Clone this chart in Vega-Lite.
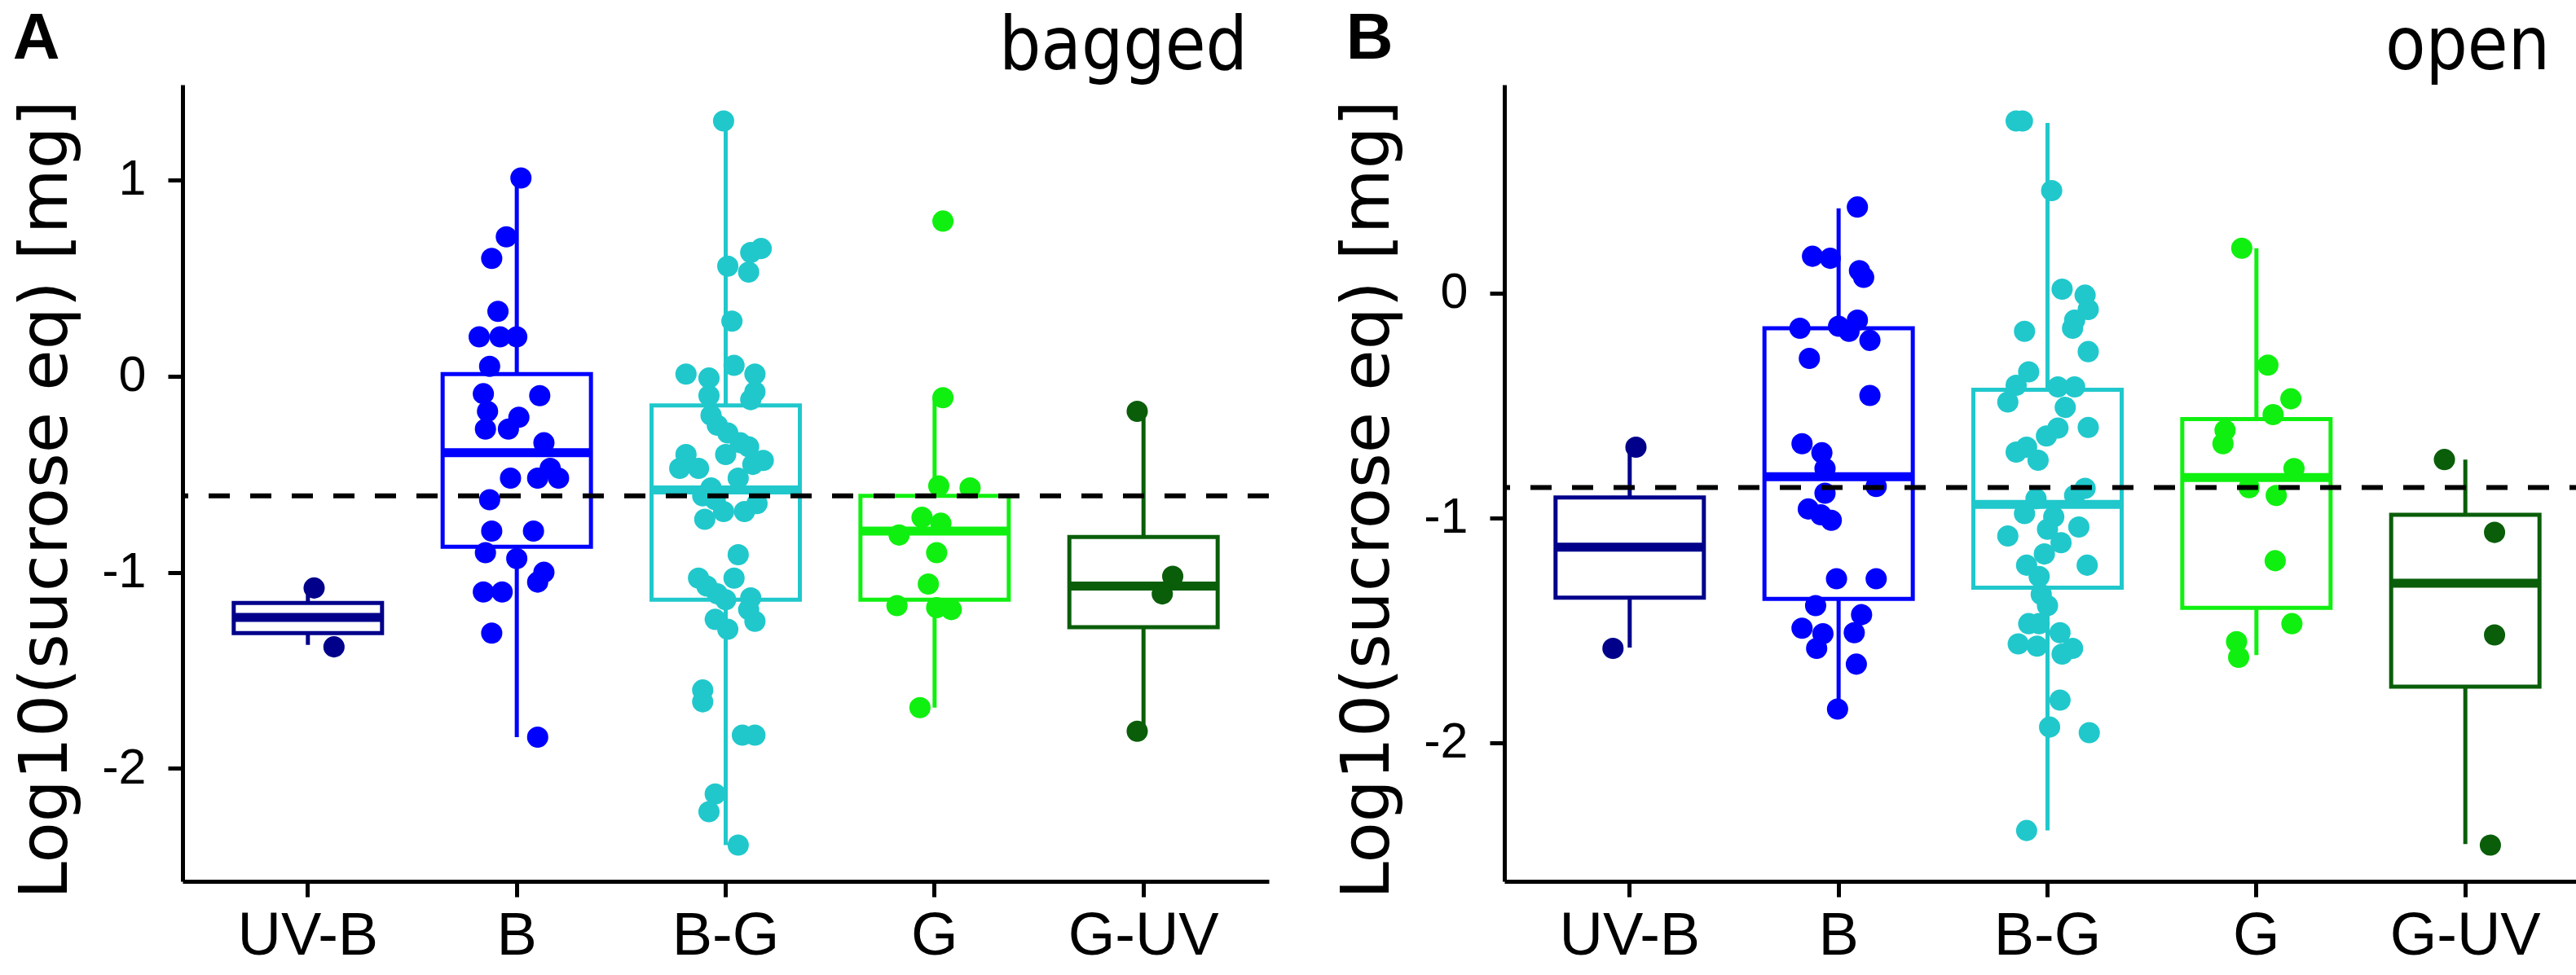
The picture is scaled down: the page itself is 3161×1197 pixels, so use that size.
{
  "$schema": "https://vega.github.io/schema/vega-lite/v6.json",
  "background": "white",
  "padding": {"left": 15, "top": 8, "right": 5, "bottom": 0},
  "spacing": 77,
  "config": {
    "view": {"stroke": null},
    "axis": {
      "grid": false,
      "domainColor": "black",
      "domainWidth": 5,
      "tickColor": "black",
      "tickWidth": 5,
      "labelColor": "black",
      "labelFont": "Liberation Sans",
      "labelLimit": 0,
      "titleFont": "DejaVu Sans",
      "titleFontWeight": "normal",
      "titleColor": "black"
    },
    "axisX": {"labelFontSize": 74, "labelPadding": 12, "tickSize": 19, "labelAngle": 0},
    "axisY": {"labelFontSize": 61, "labelPadding": 27, "tickSize": 18, "titleFontSize": 82, "titlePadding": 26, "titleY": 509, "labelExpr": "'' + datum.value"},
    "title": {"color": "black"}
  },
  "datasets": {
    "bagged_box": [
      {"cat": "UV-B", "lower": -1.37, "q1": -1.31, "median": -1.23, "q3": -1.156, "upper": -1.1},
      {"cat": "B", "lower": -1.84, "q1": -0.87, "median": -0.39, "q3": 0.01, "upper": 1.01},
      {"cat": "B-G", "lower": -2.39, "q1": -1.14, "median": -0.58, "q3": -0.15, "upper": 1.3},
      {"cat": "G", "lower": -1.69, "q1": -1.14, "median": -0.79, "q3": -0.61, "upper": -0.11},
      {"cat": "G-UV", "lower": -1.81, "q1": -1.28, "median": -1.07, "q3": -0.82, "upper": -0.18}
    ],
    "open_box": [
      {"cat": "UV-B", "lower": -1.576, "q1": -1.354, "median": -1.13, "q3": -0.909, "upper": -0.685},
      {"cat": "B", "lower": -1.85, "q1": -1.36, "median": -0.816, "q3": -0.156, "upper": 0.377},
      {"cat": "B-G", "lower": -2.39, "q1": -1.31, "median": -0.94, "q3": -0.43, "upper": 0.757},
      {"cat": "G", "lower": -1.61, "q1": -1.4, "median": -0.82, "q3": -0.56, "upper": 0.2},
      {"cat": "G-UV", "lower": -2.45, "q1": -1.75, "median": -1.29, "q3": -0.986, "upper": -0.74}
    ],
    "bagged_ref": [{"ref": -0.61}],
    "open_ref": [{"ref": -0.864}],
    "bagged_pts": [
      {"cat": "UV-B", "val": -1.08, "jitter": 0.03},
      {"cat": "UV-B", "val": -1.38, "jitter": 0.125},
      {"cat": "B", "val": 1.01, "jitter": 0.02},
      {"cat": "B", "val": 0.71, "jitter": -0.05},
      {"cat": "B", "val": 0.6, "jitter": -0.12},
      {"cat": "B", "val": 0.33, "jitter": -0.09},
      {"cat": "B", "val": 0.2, "jitter": -0.18},
      {"cat": "B", "val": 0.2, "jitter": -0.08},
      {"cat": "B", "val": 0.2, "jitter": 0.0},
      {"cat": "B", "val": 0.05, "jitter": -0.13},
      {"cat": "B", "val": -0.09, "jitter": -0.16},
      {"cat": "B", "val": -0.1, "jitter": 0.11},
      {"cat": "B", "val": -0.18, "jitter": -0.14},
      {"cat": "B", "val": -0.21, "jitter": 0.01},
      {"cat": "B", "val": -0.27, "jitter": -0.15},
      {"cat": "B", "val": -0.27, "jitter": -0.04},
      {"cat": "B", "val": -0.34, "jitter": 0.13},
      {"cat": "B", "val": -0.47, "jitter": 0.16},
      {"cat": "B", "val": -0.52, "jitter": -0.03},
      {"cat": "B", "val": -0.52, "jitter": 0.1},
      {"cat": "B", "val": -0.52, "jitter": 0.2},
      {"cat": "B", "val": -0.63, "jitter": -0.13},
      {"cat": "B", "val": -0.79, "jitter": -0.12},
      {"cat": "B", "val": -0.79, "jitter": 0.08},
      {"cat": "B", "val": -0.9, "jitter": -0.15},
      {"cat": "B", "val": -0.93, "jitter": 0.0},
      {"cat": "B", "val": -1.0, "jitter": 0.13},
      {"cat": "B", "val": -1.05, "jitter": 0.1},
      {"cat": "B", "val": -1.1, "jitter": -0.16},
      {"cat": "B", "val": -1.1, "jitter": -0.07},
      {"cat": "B", "val": -1.31, "jitter": -0.12},
      {"cat": "B", "val": -1.84, "jitter": 0.1},
      {"cat": "B-G", "val": 1.3, "jitter": -0.01},
      {"cat": "B-G", "val": 0.65, "jitter": 0.17},
      {"cat": "B-G", "val": 0.63, "jitter": 0.12},
      {"cat": "B-G", "val": 0.56, "jitter": 0.01},
      {"cat": "B-G", "val": 0.53, "jitter": 0.11},
      {"cat": "B-G", "val": 0.28, "jitter": 0.03},
      {"cat": "B-G", "val": 0.055, "jitter": 0.04},
      {"cat": "B-G", "val": 0.01, "jitter": -0.19},
      {"cat": "B-G", "val": -0.01, "jitter": -0.08},
      {"cat": "B-G", "val": 0.01, "jitter": 0.14},
      {"cat": "B-G", "val": -0.08, "jitter": 0.14},
      {"cat": "B-G", "val": -0.12, "jitter": 0.12},
      {"cat": "B-G", "val": -0.1, "jitter": -0.08},
      {"cat": "B-G", "val": -0.2, "jitter": -0.07},
      {"cat": "B-G", "val": -0.25, "jitter": -0.04},
      {"cat": "B-G", "val": -0.29, "jitter": 0.01},
      {"cat": "B-G", "val": -0.34, "jitter": 0.07},
      {"cat": "B-G", "val": -0.36, "jitter": 0.11},
      {"cat": "B-G", "val": -0.4, "jitter": -0.19},
      {"cat": "B-G", "val": -0.4, "jitter": 0.0},
      {"cat": "B-G", "val": -0.43, "jitter": 0.18},
      {"cat": "B-G", "val": -0.45, "jitter": 0.13},
      {"cat": "B-G", "val": -0.47, "jitter": -0.22},
      {"cat": "B-G", "val": -0.47, "jitter": -0.13},
      {"cat": "B-G", "val": -0.52, "jitter": 0.06},
      {"cat": "B-G", "val": -0.57, "jitter": -0.07},
      {"cat": "B-G", "val": -0.61, "jitter": -0.11},
      {"cat": "B-G", "val": -0.63, "jitter": -0.05},
      {"cat": "B-G", "val": -0.65, "jitter": 0.15},
      {"cat": "B-G", "val": -0.69, "jitter": -0.01},
      {"cat": "B-G", "val": -0.69, "jitter": 0.09},
      {"cat": "B-G", "val": -0.73, "jitter": -0.1},
      {"cat": "B-G", "val": -0.91, "jitter": 0.06},
      {"cat": "B-G", "val": -1.03, "jitter": -0.13},
      {"cat": "B-G", "val": -1.03, "jitter": 0.04},
      {"cat": "B-G", "val": -1.07, "jitter": -0.09},
      {"cat": "B-G", "val": -1.11, "jitter": -0.04},
      {"cat": "B-G", "val": -1.13, "jitter": 0.12},
      {"cat": "B-G", "val": -1.14, "jitter": 0.0},
      {"cat": "B-G", "val": -1.19, "jitter": 0.11},
      {"cat": "B-G", "val": -1.24, "jitter": -0.05},
      {"cat": "B-G", "val": -1.25, "jitter": 0.14},
      {"cat": "B-G", "val": -1.29, "jitter": 0.01},
      {"cat": "B-G", "val": -1.6, "jitter": -0.11},
      {"cat": "B-G", "val": -1.66, "jitter": -0.11},
      {"cat": "B-G", "val": -1.83, "jitter": 0.08},
      {"cat": "B-G", "val": -1.83, "jitter": 0.14},
      {"cat": "B-G", "val": -2.13, "jitter": -0.05},
      {"cat": "B-G", "val": -2.22, "jitter": -0.08},
      {"cat": "B-G", "val": -2.39, "jitter": 0.06},
      {"cat": "G", "val": 0.79, "jitter": 0.04},
      {"cat": "G", "val": -0.11, "jitter": 0.04},
      {"cat": "G", "val": -0.56, "jitter": 0.02},
      {"cat": "G", "val": -0.57, "jitter": 0.17},
      {"cat": "G", "val": -0.72, "jitter": -0.06},
      {"cat": "G", "val": -0.75, "jitter": 0.03},
      {"cat": "G", "val": -0.81, "jitter": -0.17},
      {"cat": "G", "val": -0.9, "jitter": 0.01},
      {"cat": "G", "val": -1.06, "jitter": -0.03},
      {"cat": "G", "val": -1.17, "jitter": -0.18},
      {"cat": "G", "val": -1.18, "jitter": 0.01},
      {"cat": "G", "val": -1.19, "jitter": 0.08},
      {"cat": "G", "val": -1.69, "jitter": -0.07},
      {"cat": "G-UV", "val": -0.18, "jitter": -0.03},
      {"cat": "G-UV", "val": -1.02, "jitter": 0.14},
      {"cat": "G-UV", "val": -1.11, "jitter": 0.09},
      {"cat": "G-UV", "val": -1.81, "jitter": -0.03}
    ],
    "open_pts": [
      {"cat": "UV-B", "val": -0.685, "jitter": 0.03},
      {"cat": "UV-B", "val": -1.58, "jitter": -0.08},
      {"cat": "B", "val": 0.383, "jitter": 0.09},
      {"cat": "B", "val": 0.164, "jitter": -0.125},
      {"cat": "B", "val": 0.155, "jitter": -0.04},
      {"cat": "B", "val": 0.1, "jitter": 0.1},
      {"cat": "B", "val": 0.07, "jitter": 0.12},
      {"cat": "B", "val": -0.156, "jitter": -0.185},
      {"cat": "B", "val": -0.147, "jitter": 0.0},
      {"cat": "B", "val": -0.12, "jitter": 0.09},
      {"cat": "B", "val": -0.17, "jitter": 0.05},
      {"cat": "B", "val": -0.21, "jitter": 0.15},
      {"cat": "B", "val": -0.29, "jitter": -0.14},
      {"cat": "B", "val": -0.455, "jitter": 0.15},
      {"cat": "B", "val": -0.67, "jitter": -0.175},
      {"cat": "B", "val": -0.71, "jitter": -0.08},
      {"cat": "B", "val": -0.78, "jitter": -0.065},
      {"cat": "B", "val": -0.86, "jitter": 0.18},
      {"cat": "B", "val": -0.89, "jitter": -0.065},
      {"cat": "B", "val": -0.96, "jitter": -0.145},
      {"cat": "B", "val": -0.986, "jitter": -0.085},
      {"cat": "B", "val": -1.01, "jitter": -0.035},
      {"cat": "B", "val": -1.27, "jitter": -0.01},
      {"cat": "B", "val": -1.27, "jitter": 0.18},
      {"cat": "B", "val": -1.39, "jitter": -0.11},
      {"cat": "B", "val": -1.43, "jitter": 0.11},
      {"cat": "B", "val": -1.49, "jitter": -0.175},
      {"cat": "B", "val": -1.515, "jitter": -0.075},
      {"cat": "B", "val": -1.51, "jitter": 0.075},
      {"cat": "B", "val": -1.58, "jitter": -0.105},
      {"cat": "B", "val": -1.65, "jitter": 0.085},
      {"cat": "B", "val": -1.85, "jitter": -0.005},
      {"cat": "B-G", "val": 0.766, "jitter": -0.15},
      {"cat": "B-G", "val": 0.766, "jitter": -0.12},
      {"cat": "B-G", "val": 0.456, "jitter": 0.02},
      {"cat": "B-G", "val": 0.018, "jitter": 0.07},
      {"cat": "B-G", "val": -0.009, "jitter": 0.18},
      {"cat": "B-G", "val": -0.073, "jitter": 0.195},
      {"cat": "B-G", "val": -0.12, "jitter": 0.13},
      {"cat": "B-G", "val": -0.156, "jitter": 0.12},
      {"cat": "B-G", "val": -0.17, "jitter": -0.11},
      {"cat": "B-G", "val": -0.26, "jitter": 0.195},
      {"cat": "B-G", "val": -0.35, "jitter": -0.09},
      {"cat": "B-G", "val": -0.41, "jitter": -0.15},
      {"cat": "B-G", "val": -0.417, "jitter": 0.05},
      {"cat": "B-G", "val": -0.417, "jitter": 0.13},
      {"cat": "B-G", "val": -0.484, "jitter": -0.19},
      {"cat": "B-G", "val": -0.508, "jitter": 0.085},
      {"cat": "B-G", "val": -0.597, "jitter": 0.195},
      {"cat": "B-G", "val": -0.6, "jitter": 0.05},
      {"cat": "B-G", "val": -0.635, "jitter": -0.005},
      {"cat": "B-G", "val": -0.685, "jitter": -0.1},
      {"cat": "B-G", "val": -0.707, "jitter": -0.15},
      {"cat": "B-G", "val": -0.743, "jitter": -0.045},
      {"cat": "B-G", "val": -0.868, "jitter": 0.18},
      {"cat": "B-G", "val": -0.9, "jitter": 0.13},
      {"cat": "B-G", "val": -0.914, "jitter": -0.055},
      {"cat": "B-G", "val": -0.98, "jitter": -0.11},
      {"cat": "B-G", "val": -0.995, "jitter": 0.03},
      {"cat": "B-G", "val": -1.04, "jitter": 0.15},
      {"cat": "B-G", "val": -1.05, "jitter": 0.0},
      {"cat": "B-G", "val": -1.08, "jitter": -0.19},
      {"cat": "B-G", "val": -1.11, "jitter": 0.065},
      {"cat": "B-G", "val": -1.16, "jitter": -0.015},
      {"cat": "B-G", "val": -1.21, "jitter": 0.19},
      {"cat": "B-G", "val": -1.21, "jitter": -0.1},
      {"cat": "B-G", "val": -1.26, "jitter": -0.04},
      {"cat": "B-G", "val": -1.34, "jitter": -0.03},
      {"cat": "B-G", "val": -1.39, "jitter": 0.0},
      {"cat": "B-G", "val": -1.47, "jitter": -0.09},
      {"cat": "B-G", "val": -1.47, "jitter": -0.04},
      {"cat": "B-G", "val": -1.51, "jitter": 0.06},
      {"cat": "B-G", "val": -1.56, "jitter": -0.14},
      {"cat": "B-G", "val": -1.57, "jitter": -0.05},
      {"cat": "B-G", "val": -1.58, "jitter": 0.12},
      {"cat": "B-G", "val": -1.605, "jitter": 0.07},
      {"cat": "B-G", "val": -1.81, "jitter": 0.06},
      {"cat": "B-G", "val": -1.93, "jitter": 0.01},
      {"cat": "B-G", "val": -1.955, "jitter": 0.2},
      {"cat": "B-G", "val": -2.39, "jitter": -0.1},
      {"cat": "G", "val": 0.2, "jitter": -0.07},
      {"cat": "G", "val": -0.32, "jitter": 0.055},
      {"cat": "G", "val": -0.47, "jitter": 0.165},
      {"cat": "G", "val": -0.54, "jitter": 0.08},
      {"cat": "G", "val": -0.61, "jitter": -0.15},
      {"cat": "G", "val": -0.67, "jitter": -0.16},
      {"cat": "G", "val": -0.78, "jitter": 0.18},
      {"cat": "G", "val": -0.865, "jitter": -0.035},
      {"cat": "G", "val": -0.9, "jitter": 0.095},
      {"cat": "G", "val": -1.19, "jitter": 0.09},
      {"cat": "G", "val": -1.47, "jitter": 0.17},
      {"cat": "G", "val": -1.55, "jitter": -0.095},
      {"cat": "G", "val": -1.62, "jitter": -0.085},
      {"cat": "G-UV", "val": -0.74, "jitter": -0.1},
      {"cat": "G-UV", "val": -1.064, "jitter": 0.14},
      {"cat": "G-UV", "val": -1.52, "jitter": 0.14},
      {"cat": "G-UV", "val": -2.455, "jitter": 0.12}
    ]
  },
  "hconcat": [
    {
      "title": {"text": "A", "anchor": "start", "frame": "bounds", "font": "Liberation Sans", "fontSize": 80, "fontWeight": "bold", "dy": 80},
      "vconcat": [
        {
          "width": 1333,
          "height": 978,
          "title": {"text": "bagged", "anchor": "end", "frame": "group", "font": "DejaVu Sans Condensed", "fontSize": 90, "fontWeight": "normal", "dx": -26, "offset": 0},
          "layer": [
            {
              "data": {"name": "bagged_box"},
              "mark": {"type": "rule", "strokeWidth": 5},
              "encoding": {
                "x": {"field": "cat", "type": "nominal", "sort": ["UV-B", "B", "B-G", "G", "G-UV"], "scale": {"type": "band", "paddingInner": 0, "paddingOuter": 0.1}, "axis": {"title": null}},
                "y": {"field": "lower", "type": "quantitative", "scale": {"domain": [-2.575, 1.485], "nice": false, "zero": false}, "axis": {"values": [-2, -1, 0, 1]}, "title": "Log10(sucrose eq)  [mg]"},
                "y2": {"field": "upper"},
                "color": {"field": "cat", "type": "nominal", "scale": {"domain": ["UV-B", "B", "B-G", "G", "G-UV"], "range": ["#00008B", "#0000FF", "#20C8CC", "#10F010", "#0A5E0A"]}, "legend": null}
              }
            },
            {
              "data": {"name": "bagged_box"},
              "mark": {"type": "bar", "fill": "white", "strokeWidth": 5, "width": 182},
              "encoding": {
                "x": {"field": "cat", "type": "nominal", "sort": ["UV-B", "B", "B-G", "G", "G-UV"]},
                "y": {"field": "q1", "type": "quantitative", "scale": {"domain": [-2.575, 1.485], "nice": false, "zero": false}, "title": "Log10(sucrose eq)  [mg]"},
                "y2": {"field": "q3"},
                "stroke": {"field": "cat", "type": "nominal", "scale": {"domain": ["UV-B", "B", "B-G", "G", "G-UV"], "range": ["#00008B", "#0000FF", "#20C8CC", "#10F010", "#0A5E0A"]}, "legend": null}
              }
            },
            {
              "data": {"name": "bagged_box"},
              "mark": {"type": "tick", "thickness": 11, "size": 182, "opacity": 1},
              "encoding": {
                "x": {"field": "cat", "type": "nominal", "sort": ["UV-B", "B", "B-G", "G", "G-UV"]},
                "y": {"field": "median", "type": "quantitative", "scale": {"domain": [-2.575, 1.485], "nice": false, "zero": false}, "title": "Log10(sucrose eq)  [mg]"},
                "color": {"field": "cat", "type": "nominal", "legend": null}
              }
            },
            {
              "data": {"name": "bagged_pts"},
              "mark": {"type": "circle", "size": 680, "opacity": 1},
              "encoding": {
                "x": {"field": "cat", "type": "nominal", "sort": ["UV-B", "B", "B-G", "G", "G-UV"]},
                "xOffset": {"field": "jitter", "type": "quantitative", "scale": {"domain": [-0.5, 0.5], "range": [0, 256.3]}},
                "y": {"field": "val", "type": "quantitative", "scale": {"domain": [-2.575, 1.485], "nice": false, "zero": false}, "title": "Log10(sucrose eq)  [mg]"},
                "color": {"field": "cat", "type": "nominal", "legend": null}
              }
            },
            {
              "data": {"name": "bagged_ref"},
              "mark": {"type": "rule", "color": "black", "strokeWidth": 6, "strokeDash": [26, 25]},
              "encoding": {"y": {"field": "ref", "type": "quantitative", "scale": {"domain": [-2.575, 1.485], "nice": false, "zero": false}, "title": "Log10(sucrose eq)  [mg]"}}
            }
          ]
        }
      ]
    },
    {
      "title": {"text": "B", "anchor": "start", "frame": "bounds", "font": "Liberation Sans", "fontSize": 80, "fontWeight": "bold", "dy": 80, "dx": 14},
      "vconcat": [
        {
          "width": 1333,
          "height": 978,
          "title": {"text": "open", "anchor": "end", "frame": "group", "font": "DejaVu Sans Condensed", "fontSize": 90, "fontWeight": "normal", "dx": -50, "offset": 0},
          "layer": [
            {
              "data": {"name": "open_box"},
              "mark": {"type": "rule", "strokeWidth": 5},
              "encoding": {
                "x": {"field": "cat", "type": "nominal", "sort": ["UV-B", "B", "B-G", "G", "G-UV"], "scale": {"type": "band", "paddingInner": 0, "paddingOuter": 0.1}, "axis": {"title": null}},
                "y": {"field": "lower", "type": "quantitative", "scale": {"domain": [-2.616, 0.927], "nice": false, "zero": false}, "axis": {"values": [-2, -1, 0]}, "title": "Log10(sucrose eq)  [mg]"},
                "y2": {"field": "upper"},
                "color": {"field": "cat", "type": "nominal", "scale": {"domain": ["UV-B", "B", "B-G", "G", "G-UV"], "range": ["#00008B", "#0000FF", "#20C8CC", "#10F010", "#0A5E0A"]}, "legend": null}
              }
            },
            {
              "data": {"name": "open_box"},
              "mark": {"type": "bar", "fill": "white", "strokeWidth": 5, "width": 182},
              "encoding": {
                "x": {"field": "cat", "type": "nominal", "sort": ["UV-B", "B", "B-G", "G", "G-UV"]},
                "y": {"field": "q1", "type": "quantitative", "scale": {"domain": [-2.616, 0.927], "nice": false, "zero": false}, "title": "Log10(sucrose eq)  [mg]"},
                "y2": {"field": "q3"},
                "stroke": {"field": "cat", "type": "nominal", "scale": {"domain": ["UV-B", "B", "B-G", "G", "G-UV"], "range": ["#00008B", "#0000FF", "#20C8CC", "#10F010", "#0A5E0A"]}, "legend": null}
              }
            },
            {
              "data": {"name": "open_box"},
              "mark": {"type": "tick", "thickness": 11, "size": 182, "opacity": 1},
              "encoding": {
                "x": {"field": "cat", "type": "nominal", "sort": ["UV-B", "B", "B-G", "G", "G-UV"]},
                "y": {"field": "median", "type": "quantitative", "scale": {"domain": [-2.616, 0.927], "nice": false, "zero": false}, "title": "Log10(sucrose eq)  [mg]"},
                "color": {"field": "cat", "type": "nominal", "legend": null}
              }
            },
            {
              "data": {"name": "open_pts"},
              "mark": {"type": "circle", "size": 680, "opacity": 1},
              "encoding": {
                "x": {"field": "cat", "type": "nominal", "sort": ["UV-B", "B", "B-G", "G", "G-UV"]},
                "xOffset": {"field": "jitter", "type": "quantitative", "scale": {"domain": [-0.5, 0.5], "range": [0, 256.3]}},
                "y": {"field": "val", "type": "quantitative", "scale": {"domain": [-2.616, 0.927], "nice": false, "zero": false}, "title": "Log10(sucrose eq)  [mg]"},
                "color": {"field": "cat", "type": "nominal", "legend": null}
              }
            },
            {
              "data": {"name": "open_ref"},
              "mark": {"type": "rule", "color": "black", "strokeWidth": 6, "strokeDash": [26, 25]},
              "encoding": {"y": {"field": "ref", "type": "quantitative", "scale": {"domain": [-2.616, 0.927], "nice": false, "zero": false}, "title": "Log10(sucrose eq)  [mg]"}}
            }
          ]
        }
      ]
    }
  ]
}
